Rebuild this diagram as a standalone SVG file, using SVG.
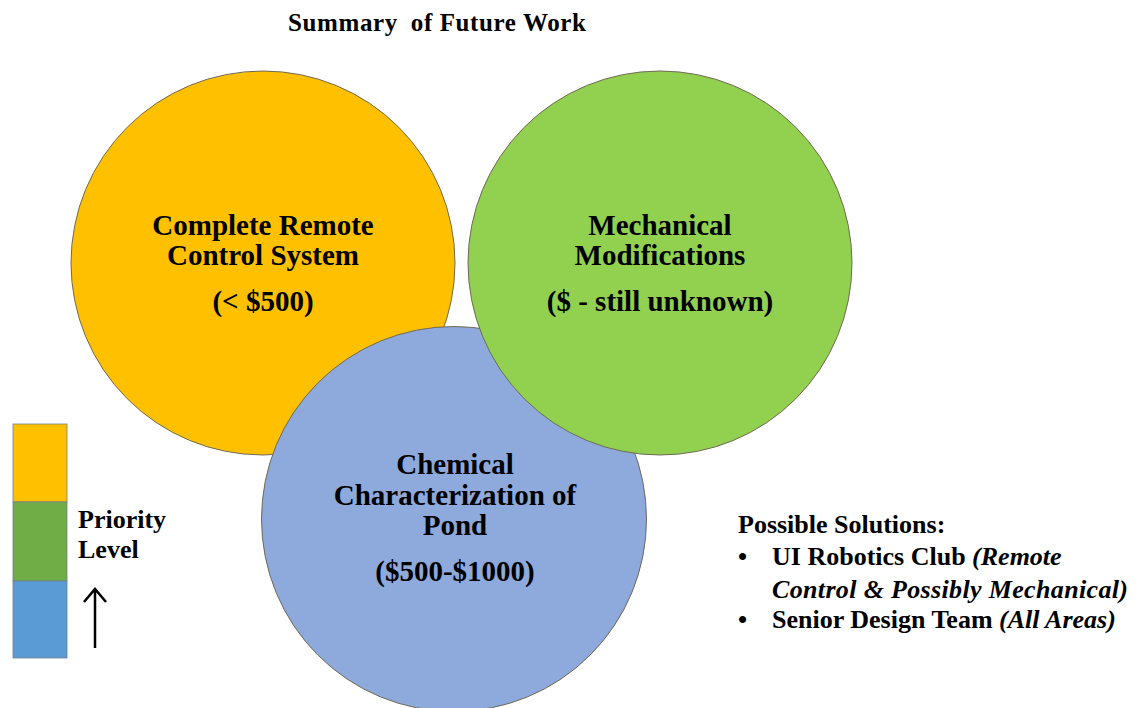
<svg xmlns="http://www.w3.org/2000/svg" width="1142" height="708" viewBox="0 0 1142 708">
<style>
.c{text-anchor:middle;font-size:29px}
.t{font-size:25px}
.s{font-size:26px}
.i{font-style:italic}
.circ{stroke:#6e6a55;stroke-width:1}
.leg{stroke:#6f7f8f;stroke-width:0.8}
</style>
<rect width="1142" height="708" fill="#fff"/>
<g font-family="'Liberation Serif', 'Times New Roman', Times, serif" font-weight="bold" fill="#000">
<text class="t" x="288" y="31" textLength="298"><tspan>Summary</tspan><tspan dx="6"> of Future Work</tspan></text>
<g id="node-remote">
<circle class="circ" cx="263" cy="263" r="192" fill="#FFC000"/>
<text class="c" x="263" y="235">Complete Remote</text>
<text class="c" x="263" y="265">Control System</text>
<text class="c" x="263" y="311">(&lt; $500)</text>
</g>
<g id="node-chemical">
<circle class="circ" cx="454" cy="519" r="192.5" fill="#8EA9DB"/>
<text class="c" x="455" y="474">Chemical</text>
<text class="c" x="455" y="505">Characterization of</text>
<text class="c" x="455" y="535">Pond</text>
<text class="c" x="455" y="581">($500-$1000)</text>
</g>
<g id="node-mechanical">
<circle class="circ" cx="660" cy="263" r="192" fill="#92D050"/>
<text class="c" x="660" y="235">Mechanical</text>
<text class="c" x="660" y="265">Modifications</text>
<text class="c" x="660" y="311">($ - still unknown)</text>
</g>
<g id="legend">
<rect class="leg" x="13" y="424" width="54" height="78" fill="#FFC000"/>
<rect class="leg" x="13" y="502" width="54" height="79" fill="#70AD47"/>
<rect class="leg" x="13" y="581" width="54" height="77" fill="#5B9BD5"/>
<text class="s" x="78" y="528">Priority</text>
<text class="s" x="78" y="558">Level</text>
<path d="M95 648V590M84 602L95 589L106 602" fill="none" stroke="#000" stroke-width="2.5"/>
</g>
<g id="connectors"></g>
<g id="solutions">
<text class="s" x="738" y="533">Possible Solutions:</text>
<text class="s" x="738" y="565">•</text>
<text class="s" x="772" y="565">UI Robotics Club <tspan class="i">(Remote</tspan></text>
<text class="s i" x="772" y="598" textLength="356">Control &amp; Possibly Mechanical)</text>
<text class="s" x="738" y="628">•</text>
<text class="s" x="772" y="628">Senior Design Team <tspan class="i">(All Areas)</tspan></text>
</g>
</g>
</svg>
